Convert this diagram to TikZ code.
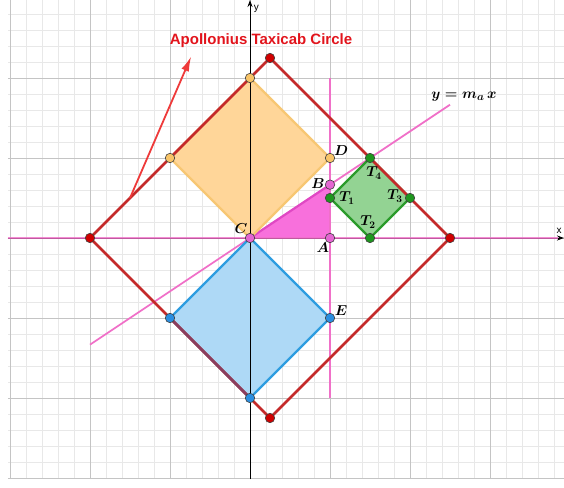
\documentclass[tikz,border=0pt]{standalone}
\usepackage{fontspec}
\newfontfamily\lsans{Liberation Sans}
\usetikzlibrary{arrows.meta,calc}
\definecolor{gminor}{HTML}{E8E8E8}
\definecolor{gmajor}{HTML}{C4C4C4}
\definecolor{redline}{HTML}{C42A2A}
\definecolor{redpt}{HTML}{D00000}
\definecolor{magline}{HTML}{F070C8}
\definecolor{magdark}{HTML}{E048C4}
\definecolor{magfill}{HTML}{F870DC}
\definecolor{magpt}{HTML}{E466D2}
\definecolor{orfill}{HTML}{FFD699}
\definecolor{orline}{HTML}{F7C774}
\definecolor{orpt}{HTML}{F8C468}
\definecolor{blfill}{HTML}{AED9F6}
\definecolor{blline}{HTML}{2E9DE0}
\definecolor{blpt}{HTML}{2A8EE0}
\definecolor{mixline}{HTML}{8A3E5E}
\definecolor{grfill}{HTML}{93D393}
\definecolor{grline}{HTML}{2B9B2B}
\definecolor{grpt}{HTML}{1E961E}
\definecolor{arrowred}{HTML}{EE3A3A}
\definecolor{textred}{HTML}{E2141C}
\begin{document}
\begin{tikzpicture}[x=80pt,y=80pt,
  pt/.style={circle,draw=black!75,line width=0.6pt,inner sep=0pt,minimum size=9.5pt},
  lbl/.style={font=\fontsize{14}{14}\selectfont\boldmath,inner sep=0pt},
  axlbl/.style={font=\lsans\fontsize{10}{10}\selectfont,inner sep=0pt},
  sqline/.style={line width=2.4pt,line join=round}]
\useasboundingbox (-3.125,-3.1125) rectangle (3.925,2.975);
% grid
\draw[gminor,line width=0.7pt] (-3.025,-3.0125) grid[step=0.2] (3.925,2.975);
\draw[gmajor,line width=0.9pt] (-3.025,-3.0125) grid[step=1] (3.925,2.975);
% named points
\coordinate (R1) at (-2,0);
\coordinate (R2) at (0.25,2.25);
\coordinate (R3) at (2.5,0);
\coordinate (R4) at (0.25,-2.25);
\coordinate (O1) at (0,2);
\coordinate (O2) at (-1,1);
\coordinate (Cc) at (0,0);
\coordinate (Dc) at (1,1);
\coordinate (Ac) at (1,0);
\coordinate (Bc) at (1,2/3);
\coordinate (Ec) at (1,-1);
\coordinate (B1) at (-1,-1);
\coordinate (B2) at (0,-2);
\coordinate (T1c) at (1,0.5);
\coordinate (T2c) at (1.5,0);
\coordinate (T3c) at (2,0.5);
\coordinate (T4c) at (1.5,1);
\coordinate (L1) at (-2,-4/3);
\coordinate (L2) at (2.5,5/3);
\coordinate (V1) at (1,-2);
\coordinate (V2) at (1,2);
\coordinate (H1) at (-3.025,0);
\coordinate (H2) at (3.85,0);
\coordinate (Ybot) at (0,-3.0125);
\coordinate (Ytop) at (0,2.975);
\coordinate (Xl) at (-3.025,0);
\coordinate (Xr) at (3.925,0);
\coordinate (AS) at (-1.5,0.5);
\coordinate (AE) at (-0.735,2.27);
% fills
\fill[orfill] (O1) -- (O2) -- (Cc) -- (Dc) -- cycle;
\fill[blfill] (Cc) -- (B1) -- (B2) -- (Ec) -- cycle;
\fill[grfill] (T1c) -- (T2c) -- (T3c) -- (T4c) -- cycle;
\fill[magfill] (Cc) -- (Ac) -- (Bc) -- cycle;
% axes
\draw[black,line width=0.9pt,-{Stealth[length=7pt,width=5pt]}] (Ybot) -- (Ytop);
\draw[black,line width=0.9pt,-{Stealth[length=7pt,width=5pt]}] (Xl) -- (Xr);
% magenta lines
\draw[magline,line width=1.8pt,opacity=0.8] (H1) -- (H2);
\draw[magline,line width=1.8pt] (V1) -- (V2);
\draw[magline,line width=1.8pt] (L1) -- (L2);
\draw[magdark,line width=2.2pt] (Cc) -- (Bc);
% square outlines
\draw[orline,sqline] (O1) -- (O2) -- (Cc) -- (Dc) -- cycle;
\draw[blline,sqline] (Cc) -- (B1) -- (B2) -- (Ec) -- cycle;
\draw[grline,sqline] (T1c) -- (T2c) -- (T3c) -- (T4c) -- cycle;
% red taxicab circle
\draw[redline,line width=2.5pt,line join=round] (R1) -- (R2) -- (R3) -- (R4) -- cycle;
\draw[mixline,line width=2.5pt] (B1) -- (B2);
% red arrow
\draw[arrowred,line width=1.8pt,-{Latex[length=15pt,width=8pt]}] (AS) -- (AE);
\node[font=\lsans\bfseries\fontsize{15}{15}\selectfont,text=textred,inner sep=0pt] (title) at (0.1375,2.4625) {Apollonius Taxicab Circle};
% points
\foreach \p in {R1,R2,R3,R4} \node[pt,fill=redpt] (p\p) at (\p) {};
\foreach \p in {O1,O2,Dc} \node[pt,fill=orpt] (p\p) at (\p) {};
\foreach \p in {Cc,Ac,Bc} \node[pt,fill=magpt] (p\p) at (\p) {};
\foreach \p in {T1c,T2c,T3c,T4c} \node[pt,fill=grpt] (p\p) at (\p) {};
\foreach \p in {B1,B2,Ec} \node[pt,fill=blpt] (p\p) at (\p) {};
% labels
\node[lbl] (lC) at ($(Cc)+(-9pt,9pt)$) {$C$};
\node[lbl] (lD) at ($(Dc)+(11pt,7pt)$) {$D$};
\node[lbl] (lB) at ($(Bc)+(-12pt,1pt)$) {$B$};
\node[lbl] (lA) at ($(Ac)+(-7pt,-10pt)$) {$A$};
\node[lbl] (lT1) at ($(T1c)+(17pt,0pt)$) {$T_1$};
\node[lbl] (lT4) at ($(T4c)+(4pt,-15pt)$) {$T_4$};
\node[lbl] (lT3) at ($(T3c)+(-15pt,2pt)$) {$T_3$};
\node[lbl] (lT2) at ($(T2c)+(-2pt,16pt)$) {$T_2$};
\node[lbl] (lE) at ($(Ec)+(11pt,7pt)$) {$E$};
\node[lbl,font=\fontsize{15}{15}\selectfont\boldmath] (leq) at (2.675,1.7625) {$y = m_a\,x$};
\node[axlbl] (lx) at (3.8625,0.085) {x};
\node[axlbl] (ly) at (0.08,2.86) {y};
\end{tikzpicture}
\end{document}
